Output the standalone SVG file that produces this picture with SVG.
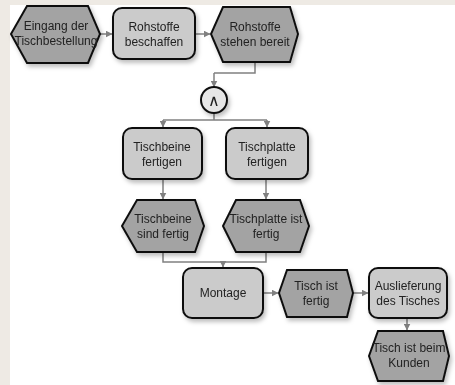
<svg xmlns="http://www.w3.org/2000/svg" width="455" height="385" viewBox="0 0 455 385">
<defs>
<style>
.fn{fill:#cbcbcb;stroke:#111;stroke-width:2}
.ev{fill:#a3a3a3;stroke:#111;stroke-width:2}
.op{fill:#e6e6e6;stroke:#111;stroke-width:2}
.t{font-family:"Liberation Sans",Arial,sans-serif;font-size:12px;fill:#222;text-anchor:middle}
.c{fill:none;stroke:#808080;stroke-width:1.5;marker-end:url(#ah)}
.cl{fill:none;stroke:#808080;stroke-width:1.5}
</style>
<marker id="ah" markerWidth="7" markerHeight="7" refX="6.5" refY="3.5" orient="auto" markerUnits="userSpaceOnUse">
<path d="M0,0 L7,3.5 L0,7 Z" fill="#808080"/>
</marker>
<filter id="sh" x="-20%" y="-20%" width="150%" height="150%">
<feDropShadow dx="2" dy="3" stdDeviation="2" flood-color="#000" flood-opacity="0.25"/>
</filter>
</defs>
<rect width="455" height="385" fill="#eeeae4"/>
<rect x="10" y="5" width="445" height="380" fill="#fff"/>
<g id="connectors">
<path class="c" d="M100,34 H112"/>
<path class="c" d="M195,34 H210"/>
<path class="cl" d="M255,62 V73 H214"/>
<path class="c" d="M214,73 V87"/>
<path class="cl" d="M214,113 V120"/>
<path class="cl" d="M163,120 H267"/>
<path class="c" d="M163,120 V127"/>
<path class="c" d="M267,120 V127"/>
<path class="c" d="M163,179 V199"/>
<path class="c" d="M266,179 V199"/>
<path class="cl" d="M163,252 V262 H266 V252"/>
<path class="c" d="M223,262 V267"/>
<path class="c" d="M263,293 H278"/>
<path class="c" d="M353,293 H368"/>
<path class="c" d="M407,318 V330"/>
</g>
<g id="n1" filter="url(#sh)">
<polygon class="ev" points="27,6 88,6 100,34 88,63 27,63 11,34"/>
<text class="t" x="56" y="30">Eingang der</text>
<text class="t" x="56" y="45">Tischbestellung</text>
</g>
<g id="n2" filter="url(#sh)">
<rect class="fn" x="113" y="8" width="82" height="51" rx="9"/>
<text class="t" x="154" y="31">Rohstoffe</text>
<text class="t" x="154" y="46">beschaffen</text>
</g>
<g id="n3" filter="url(#sh)">
<polygon class="ev" points="223,7 290,7 298,34 290,62 223,62 211,34"/>
<text class="t" x="255" y="31">Rohstoffe</text>
<text class="t" x="255" y="46">stehen bereit</text>
</g>
<g id="n4" filter="url(#sh)">
<circle class="op" cx="214" cy="100" r="13"/>
<text class="t" x="214" y="106" style="font-size:16px">∧</text>
</g>
<g id="n5" filter="url(#sh)">
<rect class="fn" x="123" y="128" width="79" height="51" rx="9"/>
<text class="t" x="162" y="151">Tischbeine</text>
<text class="t" x="162" y="166">fertigen</text>
</g>
<g id="n6" filter="url(#sh)">
<rect class="fn" x="226" y="128" width="82" height="51" rx="9"/>
<text class="t" x="267" y="151">Tischplatte</text>
<text class="t" x="267" y="166">fertigen</text>
</g>
<g id="n7" filter="url(#sh)">
<polygon class="ev" points="137,200 195,200 204,226 195,252 137,252 122,226"/>
<text class="t" x="163" y="223">Tischbeine</text>
<text class="t" x="163" y="238">sind fertig</text>
</g>
<g id="n8" filter="url(#sh)">
<polygon class="ev" points="236,200 300,200 309,226 300,252 236,252 223,226"/>
<text class="t" x="266" y="223">Tischplatte ist</text>
<text class="t" x="266" y="238">fertig</text>
</g>
<g id="n9" filter="url(#sh)">
<rect class="fn" x="183" y="268" width="80" height="50" rx="9"/>
<text class="t" x="223" y="297">Montage</text>
</g>
<g id="n10" filter="url(#sh)">
<polygon class="ev" points="287,270 347,270 353,293 347,317 287,317 279,293"/>
<text class="t" x="316" y="290">Tisch ist</text>
<text class="t" x="316" y="305">fertig</text>
</g>
<g id="n11" filter="url(#sh)">
<rect class="fn" x="369" y="268" width="78" height="50" rx="9"/>
<text class="t" x="408" y="290">Auslieferung</text>
<text class="t" x="408" y="305">des Tisches</text>
</g>
<g id="n12" filter="url(#sh)">
<polygon class="ev" points="378,331 443,331 449,356 443,381 378,381 369,356"/>
<text class="t" x="409" y="352">Tisch ist beim</text>
<text class="t" x="409" y="367">Kunden</text>
</g>
</svg>
